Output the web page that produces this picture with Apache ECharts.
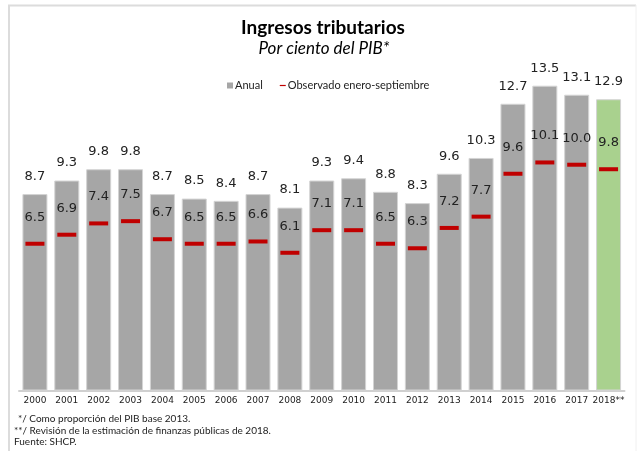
<!DOCTYPE html>
<html>
<head>
<meta charset="utf-8">
<title>Ingresos tributarios</title>
<script src="https://cdn.jsdelivr.net/npm/echarts@6/dist/echarts.min.js"></script>
<style>
  html, body { margin: 0; padding: 0; background: #fff; }
  #main { width: 637px; height: 451px; }
</style>
</head>
<body>
<div id="main"></div>
<script>
  // datos
  var years = ['2000','2001','2002','2003','2004','2005','2006','2007','2008','2009',
               '2010','2011','2012','2013','2014','2015','2016','2017','2018**'];
  var anual = [8.7, 9.3, 9.8, 9.8, 8.7, 8.5, 8.4, 8.7, 8.1, 9.3,
               9.4, 8.8, 8.3, 9.6, 10.3, 12.7, 13.5, 13.1, 12.9];
  var observado = [6.5, 6.9, 7.4, 7.5, 6.7, 6.5, 6.5, 6.6, 6.1, 7.1,
                   7.1, 6.5, 6.3, 7.2, 7.7, 9.6, 10.1, 10.0, 9.8];
  var notas = ['*/ Como proporción del PIB base 2013.',
               '**/ Revisión de la estimación de finanzas públicas de 2018.',
               'Fuente: SHCP.'];

  var myChart = echarts.init(document.getElementById('main'));
  var numFont = 'DejaVu Sans';
  var txtFont = 'Lato';

  var barData = anual.map(function (v, i) {
    return {
      value: v,
      itemStyle: { color: i === anual.length - 1 ? '#a9d18e' : '#a6a6a6' }
    };
  });

  var option = {
    animation: false,
    legend: {
      top: 75,
      left: 222,
      itemWidth: 6,
      itemHeight: 6,
      itemGap: 17,
      textStyle: { fontFamily: txtFont, fontSize: 11, color: '#222', padding: [0, 0, 0, -3] },
      data: [
        { name: 'Anual', icon: 'rect', itemStyle: { color: '#a6a6a6', borderWidth: 0 } },
        { name: 'Observado enero-septiembre', icon: 'path://M0,0H6V1.2H0Z', itemStyle: { color: '#c00000' } }
      ]
    },
    grid: { left: 19, right: 12.5, top: 74.4, bottom: 60.5 },
    xAxis: {
      type: 'category',
      data: years,
      axisTick: { show: false },
      axisLine: { lineStyle: { color: '#d0d0d0', width: 2 } },
      axisLabel: { fontFamily: numFont, fontSize: 9, color: '#222', margin: 6, interval: 0 }
    },
    yAxis: {
      type: 'value',
      min: 0,
      max: 14,
      show: false,
      splitLine: { show: false }
    },
    series: [
      {
        name: 'Anual',
        type: 'bar',
        barWidth: 25,
        data: barData,
        itemStyle: { color: '#a6a6a6', borderColor: '#d4d4d4', borderWidth: 1 },
        label: {
          show: true,
          position: 'top',
          distance: 11,
          fontFamily: numFont,
          fontSize: 13,
          color: '#222',
          formatter: function (p) { return p.value.toFixed(1); }
        }
      },
      {
        name: 'Observado enero-septiembre',
        type: 'scatter',
        symbol: 'rect',
        symbolSize: [19, 4],
        data: observado,
        itemStyle: { color: '#c00000', opacity: 1 },
        label: {
          show: true,
          position: 'top',
          distance: 18,
          fontFamily: numFont,
          fontSize: 13,
          color: '#222',
          formatter: function (p) { return p.value.toFixed(1); }
        },
        z: 3
      }
    ],
    graphic: [
      // marco del grafico
      { type: 'line', shape: { x1: 8, y1: 5.5, x2: 636, y2: 5.5 }, style: { stroke: '#dcdcdc', lineWidth: 2 } },
      { type: 'line', shape: { x1: 9, y1: 5, x2: 9, y2: 451 }, style: { stroke: '#dcdcdc', lineWidth: 2 } },
      { type: 'line', shape: { x1: 636, y1: 5, x2: 636, y2: 451 }, style: { stroke: '#f0f0f0', lineWidth: 1 } },
      // titulo
      { type: 'text', x: 323, y: 28, style: { text: 'Ingresos tributarios', textAlign: 'center', textVerticalAlign: 'middle',
          fontFamily: txtFont, fontWeight: 'bold', fontSize: 19, fill: '#000' } },
      { type: 'text', x: 324, y: 49, style: { text: 'Por ciento del PIB*', textAlign: 'center', textVerticalAlign: 'middle',
          fontFamily: txtFont, fontStyle: 'italic', fontSize: 17, fill: '#000' } },
      // notas
      { type: 'text', x: 18, y: 419, style: { text: notas[0], textVerticalAlign: 'middle', fontFamily: txtFont, fontSize: 10, fill: '#222' } },
      { type: 'text', x: 14, y: 430.5, style: { text: notas[1], textVerticalAlign: 'middle', fontFamily: txtFont, fontSize: 10, fill: '#222' } },
      { type: 'text', x: 14, y: 442, style: { text: notas[2], textVerticalAlign: 'middle', fontFamily: txtFont, fontSize: 10, fill: '#222' } }
    ]
  };
  myChart.setOption(option);
</script>
</body>
</html>
